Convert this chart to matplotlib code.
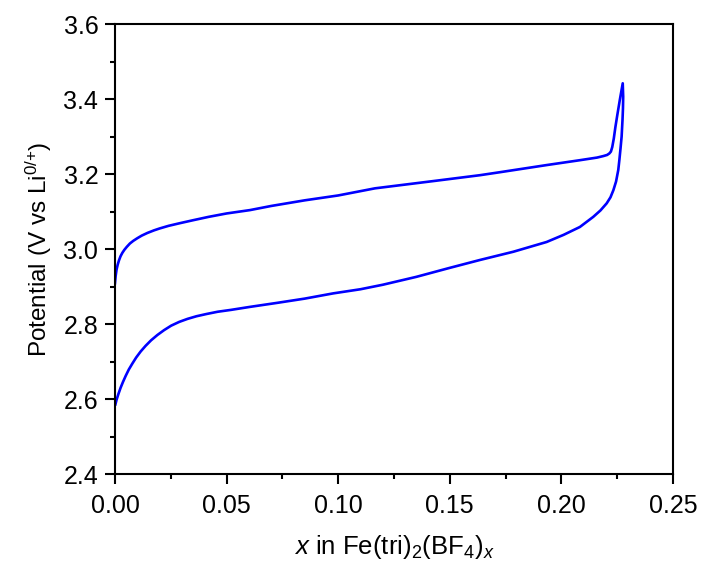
import matplotlib
matplotlib.use("Agg")
import matplotlib.pyplot as plt
from matplotlib.ticker import MultipleLocator

# -------------------------------
# DATA (one charge/discharge loop)
# -------------------------------

# charge branch: x goes up, potential rises
x_charge = [0.0, 0.0003, 0.0007, 0.0012, 0.0018, 0.0025, 0.0033, 0.0042, 0.0053,
            0.0067, 0.0082, 0.0100, 0.0120, 0.0145, 0.0175, 0.020, 0.024,
            0.029, 0.035, 0.042, 0.050, 0.0605, 0.070, 0.085, 0.100,
            0.1165, 0.130, 0.1435, 0.1635, 0.1725, 0.1934, 0.2083, 0.2160,
            0.2188, 0.2205, 0.2215, 0.2222, 0.2228, 0.2235, 0.2242, 0.2250,
            0.2262, 0.2275]
v_charge = [2.909, 2.928, 2.945, 2.958, 2.970, 2.981, 2.990, 2.998, 3.006,
            3.015, 3.022, 3.029, 3.036, 3.043, 3.050, 3.055, 3.062,
            3.069, 3.077, 3.086, 3.095, 3.104, 3.115, 3.130, 3.143,
            3.162, 3.172, 3.182, 3.197, 3.205, 3.224, 3.237, 3.244,
            3.248, 3.251, 3.255, 3.260, 3.272, 3.295, 3.325, 3.355,
            3.398, 3.442]

# discharge branch: x goes back down, potential falls
x_discharge = [0.2275, 0.2277, 0.2276, 0.2274, 0.2270, 0.2265, 0.2260, 0.2255,
               0.2245, 0.2233, 0.2220, 0.2203, 0.2175, 0.2143, 0.2083, 0.2010,
               0.1934, 0.1785, 0.1635, 0.150, 0.135, 0.120, 0.1100, 0.0978,
               0.085, 0.0730, 0.0605, 0.0520, 0.0460, 0.0410, 0.0365, 0.0325,
               0.0288, 0.0252, 0.0220, 0.0190, 0.0162, 0.0137, 0.0115, 0.0095,
               0.0078, 0.0062, 0.0048, 0.0036, 0.0025, 0.0015, 0.0007, 0.0002]
v_discharge = [3.442, 3.406, 3.375, 3.345, 3.300, 3.268, 3.238, 3.211,
               3.180, 3.157, 3.138, 3.122, 3.103, 3.086, 3.059, 3.038,
               3.019, 2.993, 2.971, 2.950, 2.926, 2.905, 2.893, 2.882,
               2.868, 2.857, 2.846, 2.838, 2.833, 2.827, 2.821, 2.814,
               2.806, 2.796, 2.784, 2.771, 2.757, 2.742, 2.727, 2.711,
               2.695, 2.679, 2.662, 2.646, 2.630, 2.613, 2.598, 2.586]

x_all = x_charge + x_discharge[1:]
v_all = v_charge + v_discharge[1:]

# -------------------------------
# STYLE
# -------------------------------

plt.rcParams["font.family"] = ["Liberation Sans", "DejaVu Sans"]
plt.rcParams["mathtext.fontset"] = "custom"
plt.rcParams["mathtext.rm"] = "Liberation Sans"
plt.rcParams["mathtext.it"] = "Liberation Sans:italic"
plt.rcParams["mathtext.default"] = "regular"

fig = plt.figure(figsize=(7.01, 5.72), dpi=100)
ax = fig.add_axes([0.164, 0.171, 0.796, 0.787])

ax.plot(x_all, v_all, color="#0000ff", lw=1.9, solid_joinstyle="round")

ax.set_xlim(0, 0.25)
ax.set_ylim(2.4, 3.6)
ax.xaxis.set_major_locator(MultipleLocator(0.05))
ax.xaxis.set_minor_locator(MultipleLocator(0.025))
ax.yaxis.set_major_locator(MultipleLocator(0.2))
ax.yaxis.set_minor_locator(MultipleLocator(0.1))
ax.xaxis.set_major_formatter(lambda v, p: f"{v:.2f}")
ax.yaxis.set_major_formatter(lambda v, p: f"{v:.1f}")

ax.tick_params(which="both", direction="out", top=False, right=False,
               width=1.5, labelsize=18)
ax.tick_params(which="major", length=7)
ax.tick_params(which="minor", length=3.5)
ax.tick_params(axis="x", which="major", pad=7)
ax.tick_params(axis="y", which="major", pad=5)
for s in ax.spines.values():
    s.set_linewidth(1.5)

ax.set_xlabel(r"$\mathit{x}$ in Fe(tri)$_2$(BF$_4$)$_{\mathit{x}}$", fontsize=18.5, labelpad=11)
ax.set_ylabel(r"Potential (V vs Li$^{0/{+}}$)", fontsize=17.5, labelpad=7)

fig.savefig("out.png", dpi=100)
